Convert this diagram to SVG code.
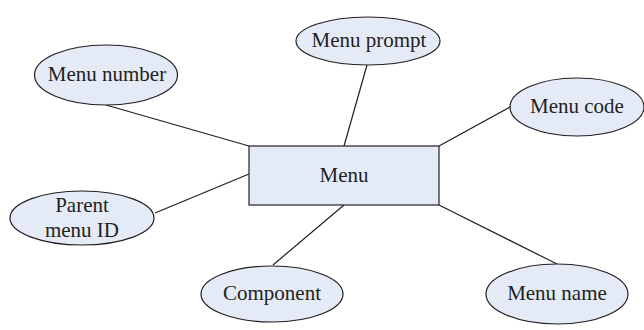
<svg xmlns="http://www.w3.org/2000/svg" width="644" height="330" viewBox="0 0 644 330">
<style>
.n{fill:#e5ebf6;stroke:#231f20;stroke-width:1.2}
.t{font-family:"Liberation Serif",serif;font-size:21px;fill:#231f20;text-anchor:middle}
.c line{stroke:#231f20;stroke-width:1.2}
</style>
<rect width="644" height="330" fill="#fff"/>
<g class="c" id="connectors">
<line x1="106" y1="105" x2="249" y2="146"/>
<line x1="367" y1="65" x2="344" y2="146"/>
<line x1="439" y1="146" x2="510" y2="107"/>
<line x1="155" y1="213" x2="249" y2="174"/>
<line x1="273" y1="265" x2="344" y2="205"/>
<line x1="439" y1="205" x2="557" y2="264"/>
</g>
<g id="menu"><rect class="n" x="249" y="146" width="190" height="59"/><text class="t" x="344" y="182">Menu</text></g>
<g id="menu-number"><ellipse class="n" cx="106" cy="75" rx="71.5" ry="30"/><text class="t" x="107" y="81">Menu number</text></g>
<g id="menu-prompt"><ellipse class="n" cx="368" cy="41" rx="72" ry="24"/><text class="t" x="369" y="47">Menu prompt</text></g>
<g id="menu-code"><ellipse class="n" cx="577" cy="107" rx="67" ry="29"/><text class="t" x="577" y="113">Menu code</text></g>
<g id="parent-menu-id"><ellipse class="n" cx="82" cy="218" rx="72" ry="27"/><text class="t" x="82" y="212">Parent</text><text class="t" x="82" y="237">menu ID</text></g>
<g id="component"><ellipse class="n" cx="272" cy="294" rx="71" ry="28"/><text class="t" x="272" y="300">Component</text></g>
<g id="menu-name"><ellipse class="n" cx="557" cy="294" rx="71" ry="30"/><text class="t" x="557" y="300">Menu name</text></g>
</svg>
